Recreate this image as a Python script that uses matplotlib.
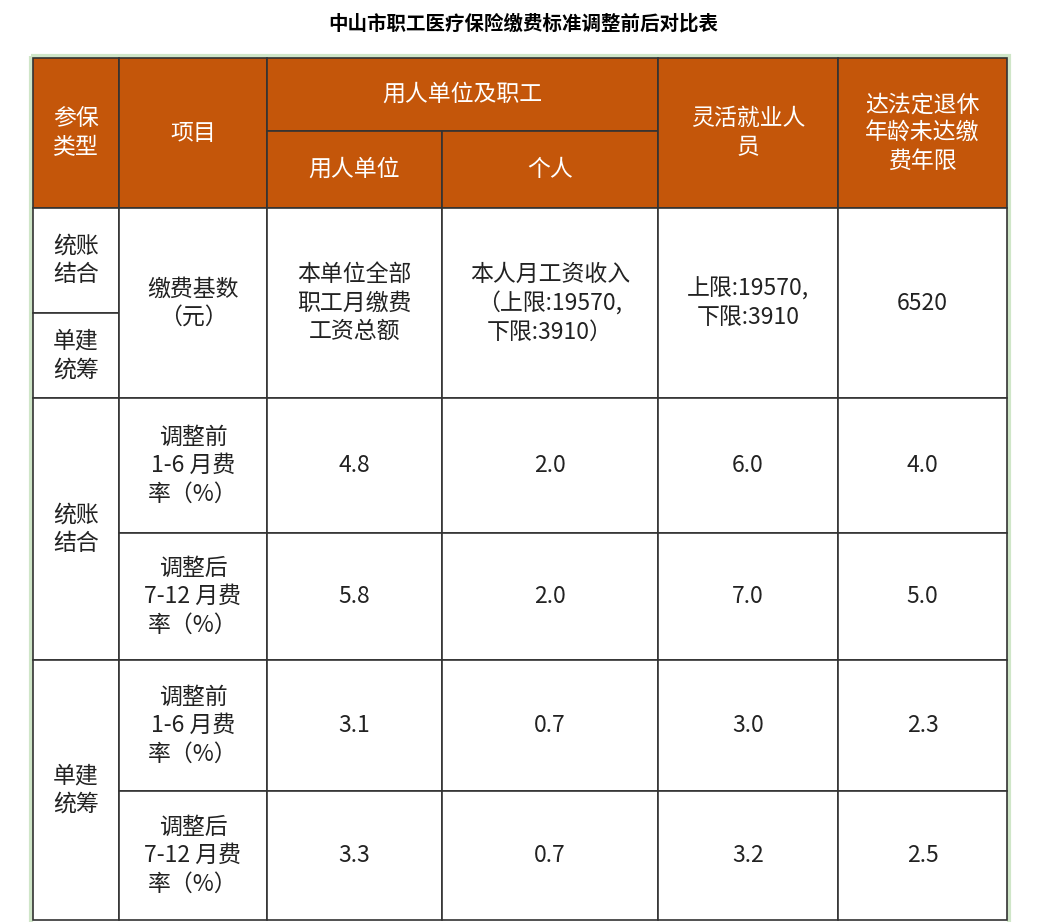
import matplotlib.pyplot as plt
from matplotlib.patches import Rectangle

plt.rcParams["font.family"] = "Noto Sans CJK SC"

title = "中山市职工医疗保险缴费标准调整前后对比表"
col_edges = [33, 119, 267, 442, 658, 838, 1007]
row_edges = [58, 131, 208, 313, 398, 533, 660, 791, 920]
header_color = "#C4560A"

types = ["统账\n结合", "单建\n统筹"]
items = ["调整前\n1-6 月费\n率（%）", "调整后\n7-12 月费\n率（%）"]
base_row = ["本单位全部\n职工月缴费\n工资总额", "本人月工资收入\n（上限:19570,\n下限:3910）",
            "上限:19570,\n下限:3910", "6520"]
rates = [
    ["4.8", "2.0", "6.0", "4.0"],
    ["5.8", "2.0", "7.0", "5.0"],
    ["3.1", "0.7", "3.0", "2.3"],
    ["3.3", "0.7", "3.2", "2.5"],
]

fig = plt.figure(figsize=(10.46, 9.22), dpi=100)
ax = fig.add_axes([0, 0, 1, 1])
ax.set_xlim(0, 1046)
ax.set_ylim(922, 0)
ax.axis("off")

ax.text(523, 24, title, ha="center", va="center", fontsize=14, fontweight="bold")
ax.add_patch(Rectangle((31, 56), 978, 870, fc="none", ec="#cfe6c8", lw=3))


def cell(x0, x1, y0, y1, text, fill="white", color="#222222", size=16.5):
    ax.add_patch(Rectangle((x0, y0), x1 - x0, y1 - y0, fc=fill, ec="#333333", lw=1.2))
    ax.text((x0 + x1) / 2, (y0 + y1) / 2, text, ha="center", va="center",
            fontsize=size, color=color, linespacing=1.3)


c, r = col_edges, row_edges
w = "white"
# header
cell(c[0], c[1], r[0], r[2], "参保\n类型", header_color, w)
cell(c[1], c[2], r[0], r[2], "项目", header_color, w)
cell(c[2], c[4], r[0], r[1], "用人单位及职工", header_color, w)
cell(c[2], c[3], r[1], r[2], "用人单位", header_color, w)
cell(c[3], c[4], r[1], r[2], "个人", header_color, w)
cell(c[4], c[5], r[0], r[2], "灵活就业人\n员", header_color, w)
cell(c[5], c[6], r[0], r[2], "达法定退休\n年龄未达缴\n费年限", header_color, w)

# base row
cell(c[0], c[1], r[2], r[3], types[0])
cell(c[0], c[1], r[3], r[4], types[1])
cell(c[1], c[2], r[2], r[4], "缴费基数\n（元）")
for j, txt in enumerate(base_row):
    cell(c[2 + j], c[3 + j], r[2], r[4], txt)

# rate rows
for g in range(2):
    cell(c[0], c[1], r[4 + 2 * g], r[6 + 2 * g], types[g])
    for k in range(2):
        i = 2 * g + k
        y0, y1 = r[4 + i], r[5 + i]
        cell(c[1], c[2], y0, y1, items[k])
        for j, v in enumerate(rates[i]):
            cell(c[2 + j], c[3 + j], y0, y1, v)

fig.savefig("out.png", dpi=100)
